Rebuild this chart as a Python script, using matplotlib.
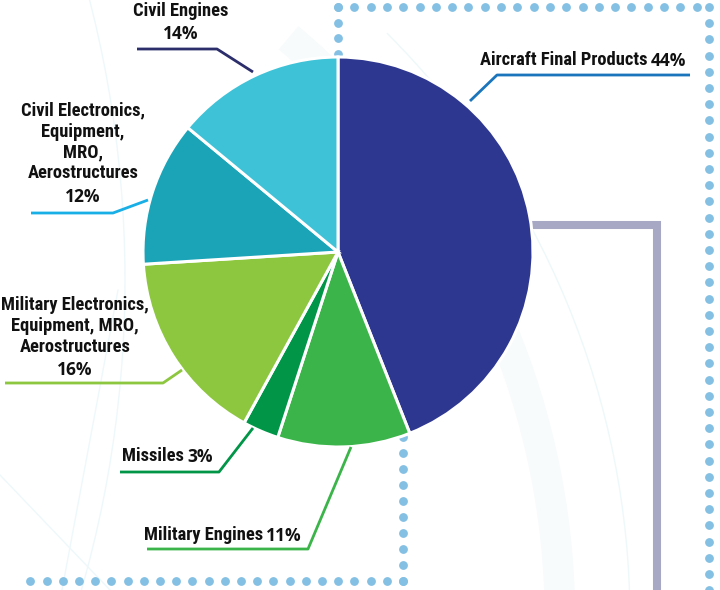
import numpy as np
import matplotlib.pyplot as plt
from matplotlib.patches import Arc

# share of output by segment
segments = ["Aircraft Final Products", "Military Engines", "Missiles",
            "Military Electronics,\nEquipment, MRO,\nAerostructures",
            "Civil Electronics,\nEquipment,\nMRO,\nAerostructures",
            "Civil Engines"]
shares = [44, 11, 3, 16, 12, 14]
colors = ["#2e378f", "#3bb54a", "#009547", "#8dc63f", "#1ba3b8", "#3ec2d7"]
leader_colors = ["#1b75bc", "#3bb54a", "#009547", "#8dc63f", "#18aee6", "#2b2e6b"]

W, H = 720, 590
NAME_FONT = ["Roboto Condensed", "PT Sans Narrow", "Archivo Narrow",
             "Asap Condensed", "DejaVu Sans"]
PCT_FONT = ["Open Sans", "DejaVu Sans"]

fig = plt.figure(figsize=(W / 100, H / 100), dpi=100)
ax = fig.add_axes([0, 0, 1, 1])

def Y(y):
    # pixel row -> data y
    return H - y

# faint background swooshes
for (cx, cy, r, t1, t2, lw, c) in [(-200, 620, 760, 0, 50, 22, "#f7fbfc"),
                                   (-200, 620, 830, 0, 45, 1.0, "#eef8f8"),
                                   (-1000, 280, 1125, -20, 20, 1.0, "#eef8fa")]:
    ax.add_patch(Arc((cx, Y(cy)), 2 * r, 2 * r, theta1=t1, theta2=t2, color=c,
                     lw=lw, zorder=0))
ax.plot([0, 110], [Y(475), Y(590)], color="#eef8fa", lw=1.0, zorder=0)
ax.plot([118, 62], [Y(290), Y(590)], color="#eef8fa", lw=1.0, zorder=0)

# dotted frame
dot = dict(ls="none", marker="o", ms=5.3, color="#84c0e3", zorder=1)
xs = np.arange(338, 712, 16.3)
ax.plot(xs, np.full_like(xs, Y(7)), **dot)
ys = np.arange(7, 592, 16.2)
ax.plot(np.full_like(ys, 709), Y(ys), **dot)
ys = np.arange(7, 60, 15.5)
ax.plot(np.full_like(ys, 338), Y(ys), **dot)
xs = np.arange(403, 15, -16.2)
ax.plot(xs, np.full_like(xs, Y(581)), **dot)
ys = np.arange(581, 430, -16.0)
ax.plot(np.full_like(ys, 403), Y(ys), **dot)

# grey bracket
ax.plot([534, 657, 657], [Y(225), Y(225), Y(595)], color="#a7a8c4", lw=5.8,
        solid_joinstyle="miter", zorder=1)

ax.pie(shares, colors=colors, startangle=90, counterclock=False,
       center=(338, Y(252)), radius=195, frame=True,
       wedgeprops=dict(edgecolor="white", linewidth=2.2))
ax.set_xlim(0, W)
ax.set_ylim(0, H)
ax.set_aspect("equal")
ax.axis("off")

def leader(pts, color):
    ax.plot([p[0] for p in pts], [Y(p[1]) for p in pts], color=color, lw=2,
            solid_capstyle="butt", zorder=3)

name_kw = dict(family=NAME_FONT, fontweight="bold", fontsize=13.3,
               color="#111111", zorder=4)
pct_kw = dict(family=PCT_FONT, fontweight="bold", fontsize=12.5,
              color="#111111", zorder=4)

# Aircraft Final Products
ax.text(648, Y(60), segments[0], ha="right", va="center", **name_kw)
ax.text(651, Y(61), f"{shares[0]}%", ha="left", va="center", **pct_kw)
leader([(690, 75), (497, 75), (470, 101)], leader_colors[0])

# Military Engines
ax.text(263, Y(535), segments[1], ha="right", va="center", **name_kw)
ax.text(266, Y(536), f"{shares[1]}%", ha="left", va="center", **pct_kw)
leader([(147, 549), (308, 549), (351, 447)], leader_colors[1])

# Missiles
ax.text(184, Y(456), segments[2], ha="right", va="center", **name_kw)
ax.text(187, Y(457), f"{shares[2]}%", ha="left", va="center", **pct_kw)
leader([(120, 472), (219, 472), (253, 428)], leader_colors[2])

# Military Electronics
ax.text(75, Y(326), segments[3], ha="center", va="center",
        linespacing=1.2, **name_kw)
ax.text(75, Y(370), f"{shares[3]}%", ha="center", va="center", **pct_kw)
leader([(5, 383), (163, 383), (182, 370)], leader_colors[3])

# Civil Electronics
ax.text(83, Y(142), segments[4], ha="center", va="center",
        linespacing=1.2, **name_kw)
ax.text(83, Y(197), f"{shares[4]}%", ha="center", va="center", **pct_kw)
leader([(31, 213), (113, 213), (148, 200)], leader_colors[4])

# Civil Engines
ax.text(181, Y(11), segments[5], ha="center", va="center", **name_kw)
ax.text(181, Y(34), f"{shares[5]}%", ha="center", va="center", **pct_kw)
leader([(137, 49), (217, 49), (253, 72)], leader_colors[5])

fig.savefig("out.png", dpi=100, facecolor="white")
